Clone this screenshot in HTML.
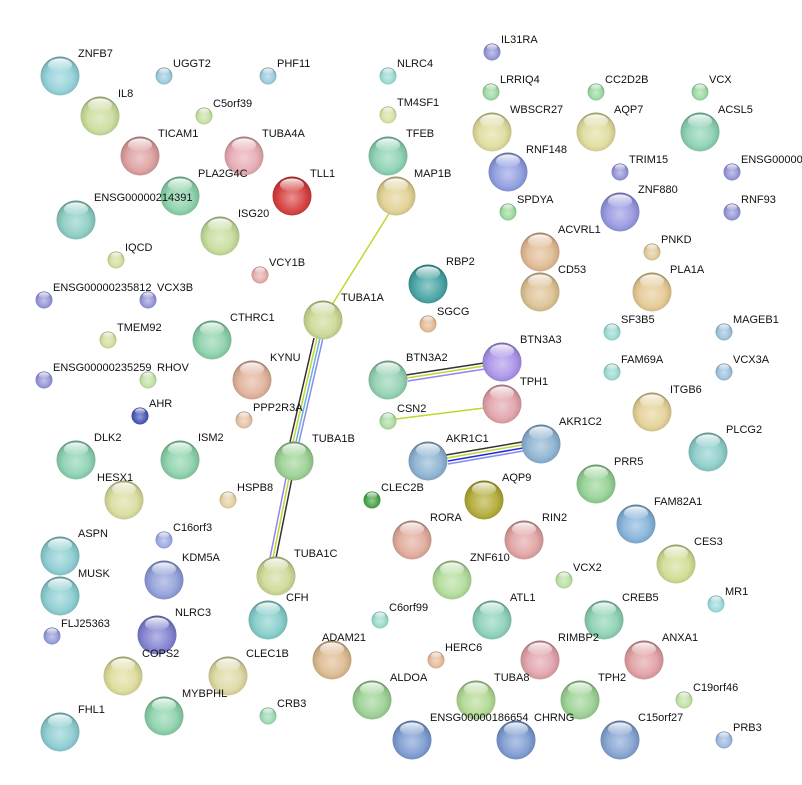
<!DOCTYPE html>
<html><head><meta charset="utf-8"><style>
html,body{margin:0;padding:0;background:#fff;}
svg{display:block;}
text{font-family:"Liberation Sans",Arial,sans-serif;font-size:11px;fill:#111;}
</style></head><body>
<svg width="802" height="785" viewBox="0 0 802 785" xmlns="http://www.w3.org/2000/svg">
<defs>
<radialGradient id="sh" cx="50%" cy="55%" r="55%">
<stop offset="0%" stop-color="#fff" stop-opacity="0.45"/>
<stop offset="60%" stop-color="#fff" stop-opacity="0.1"/>
<stop offset="88%" stop-color="#000" stop-opacity="0.1"/>
<stop offset="100%" stop-color="#000" stop-opacity="0.35"/>
</radialGradient>
<linearGradient id="gl" x1="0" y1="0" x2="0" y2="1">
<stop offset="0%" stop-color="#fff" stop-opacity="0.9"/>
<stop offset="100%" stop-color="#fff" stop-opacity="0.05"/>
</linearGradient>
<g id="L"><circle r="19.5" fill="url(#sh)"/><ellipse cx="0" cy="-11" rx="12" ry="6.5" fill="url(#gl)"/></g>
<g id="S"><circle r="8.5" fill="url(#sh)"/><ellipse cx="0" cy="-4.8" rx="5.2" ry="3" fill="url(#gl)"/></g>
</defs>

<!-- edges -->
<line x1="330" y1="308" x2="390" y2="212" stroke="#c2d62e" stroke-width="1.5"/>
<g stroke-width="1.5">
<line x1="314" y1="338" x2="290" y2="442" stroke="#333"/>
<line x1="317" y1="338" x2="293" y2="442" stroke="#c2d62e"/>
<line x1="320" y1="338" x2="296" y2="442" stroke="#5fb6e0"/>
<line x1="323" y1="338" x2="299" y2="442" stroke="#8a8aef"/>
<line x1="292" y1="478" x2="276" y2="558" stroke="#333"/>
<line x1="289" y1="478" x2="273" y2="558" stroke="#c2d62e"/>
<line x1="286" y1="478" x2="270" y2="558" stroke="#8a8aef"/>
<line x1="406" y1="375" x2="484" y2="363" stroke="#333"/>
<line x1="407" y1="378" x2="484" y2="366" stroke="#c2d62e"/>
<line x1="408" y1="381" x2="485" y2="369" stroke="#8a8aef"/>
<line x1="396" y1="419" x2="484" y2="408" stroke="#c2d62e"/>
<line x1="446" y1="455" x2="522" y2="442" stroke="#333"/>
<line x1="447" y1="458" x2="522" y2="445" stroke="#c2d62e"/>
<line x1="448" y1="461" x2="523" y2="448" stroke="#2030e0"/>
<line x1="448" y1="464" x2="523" y2="451" stroke="#8a8aef"/>
</g>

<!-- nodes: large -->
<g>
<circle cx="60" cy="76" r="19.5" fill="#8fd0d8"/><use href="#L" x="60" y="76"/><text x="78" y="57">ZNFB7</text>
<circle cx="100" cy="116" r="19.5" fill="#c8dc98"/><use href="#L" x="100" y="116"/><text x="118" y="97">IL8</text>
<circle cx="492" cy="132" r="19.5" fill="#dedc9a"/><use href="#L" x="492" y="132"/><text x="510" y="113">WBSCR27</text>
<circle cx="596" cy="132" r="19.5" fill="#dedc9a"/><use href="#L" x="596" y="132"/><text x="614" y="113">AQP7</text>
<circle cx="700" cy="132" r="19.5" fill="#88d0b0"/><use href="#L" x="700" y="132"/><text x="718" y="113">ACSL5</text>
<circle cx="140" cy="156" r="19.5" fill="#dc9c9c"/><use href="#L" x="140" y="156"/><text x="158" y="137">TICAM1</text>
<circle cx="244" cy="156" r="19.5" fill="#e6a8b0"/><use href="#L" x="244" y="156"/><text x="262" y="137">TUBA4A</text>
<circle cx="388" cy="156" r="19.5" fill="#88d0b0"/><use href="#L" x="388" y="156"/><text x="406" y="137">TFEB</text>
<circle cx="508" cy="172" r="19.5" fill="#8c9ae0"/><use href="#L" x="508" y="172"/><text x="526" y="153">RNF148</text>
<circle cx="180" cy="196" r="19.5" fill="#88d0a8"/><use href="#L" x="180" y="196"/><text x="198" y="177">PLA2G4C</text>
<circle cx="292" cy="196" r="19.5" fill="#d43838"/><use href="#L" x="292" y="196"/><text x="310" y="177">TLL1</text>
<circle cx="396" cy="196" r="19.5" fill="#e0d090"/><use href="#L" x="396" y="196"/><text x="414" y="177">MAP1B</text>
<circle cx="76" cy="220" r="19.5" fill="#88ccc0"/><use href="#L" x="76" y="220"/><text x="94" y="201">ENSG00000214391</text>
<circle cx="620" cy="212" r="19.5" fill="#9494e0"/><use href="#L" x="620" y="212"/><text x="638" y="193">ZNF880</text>
<circle cx="220" cy="236" r="19.5" fill="#c4dc98"/><use href="#L" x="220" y="236"/><text x="238" y="217">ISG20</text>
<circle cx="540" cy="252" r="19.5" fill="#e0b890"/><use href="#L" x="540" y="252"/><text x="558" y="233">ACVRL1</text>
<circle cx="428" cy="284" r="19.5" fill="#40a0a0"/><use href="#L" x="428" y="284"/><text x="446" y="265">RBP2</text>
<circle cx="540" cy="292" r="19.5" fill="#dcc090"/><use href="#L" x="540" y="292"/><text x="558" y="273">CD53</text>
<circle cx="652" cy="292" r="19.5" fill="#e4c890"/><use href="#L" x="652" y="292"/><text x="670" y="273">PLA1A</text>
<circle cx="323" cy="320" r="19.5" fill="#c8d890"/><use href="#L" x="323" y="320"/><text x="341" y="301">TUBA1A</text>
<circle cx="212" cy="340" r="19.5" fill="#88d0a8"/><use href="#L" x="212" y="340"/><text x="230" y="321">CTHRC1</text>
<circle cx="502" cy="362" r="19.5" fill="#a890e8"/><use href="#L" x="502" y="362"/><text x="520" y="343">BTN3A3</text>
<circle cx="252" cy="380" r="19.5" fill="#e0b098"/><use href="#L" x="252" y="380"/><text x="270" y="361">KYNU</text>
<circle cx="388" cy="380" r="19.5" fill="#90d0b0"/><use href="#L" x="388" y="380"/><text x="406" y="361">BTN3A2</text>
<circle cx="502" cy="404" r="19.5" fill="#e0a0a8"/><use href="#L" x="502" y="404"/><text x="520" y="385">TPH1</text>
<circle cx="652" cy="412" r="19.5" fill="#e4d094"/><use href="#L" x="652" y="412"/><text x="670" y="393">ITGB6</text>
<circle cx="541" cy="444" r="19.5" fill="#88b0d0"/><use href="#L" x="541" y="444"/><text x="559" y="425">AKR1C2</text>
<circle cx="428" cy="461" r="19.5" fill="#88b0d0"/><use href="#L" x="428" y="461"/><text x="446" y="442">AKR1C1</text>
<circle cx="76" cy="460" r="19.5" fill="#88d0b0"/><use href="#L" x="76" y="460"/><text x="94" y="441">DLK2</text>
<circle cx="180" cy="460" r="19.5" fill="#88d0a8"/><use href="#L" x="180" y="460"/><text x="198" y="441">ISM2</text>
<circle cx="294" cy="461" r="19.5" fill="#98d090"/><use href="#L" x="294" y="461"/><text x="312" y="442">TUBA1B</text>
<circle cx="708" cy="452" r="19.5" fill="#88ccc8"/><use href="#L" x="708" y="452"/><text x="726" y="433">PLCG2</text>
<circle cx="124" cy="500" r="19.5" fill="#d8dc9c"/><use href="#L" x="124" y="500"/><text x="97" y="481">HESX1</text>
<circle cx="484" cy="500" r="19.5" fill="#b0a830"/><use href="#L" x="484" y="500"/><text x="502" y="481">AQP9</text>
<circle cx="596" cy="484" r="19.5" fill="#90d090"/><use href="#L" x="596" y="484"/><text x="614" y="465">PRR5</text>
<circle cx="636" cy="524" r="19.5" fill="#80b0d8"/><use href="#L" x="636" y="524"/><text x="654" y="505">FAM82A1</text>
<circle cx="60" cy="556" r="19.5" fill="#88ccd0"/><use href="#L" x="60" y="556"/><text x="78" y="537">ASPN</text>
<circle cx="412" cy="540" r="19.5" fill="#e0a898"/><use href="#L" x="412" y="540"/><text x="430" y="521">RORA</text>
<circle cx="524" cy="540" r="19.5" fill="#e0a0a0"/><use href="#L" x="524" y="540"/><text x="542" y="521">RIN2</text>
<circle cx="164" cy="580" r="19.5" fill="#8c9cd8"/><use href="#L" x="164" y="580"/><text x="182" y="561">KDM5A</text>
<circle cx="452" cy="580" r="19.5" fill="#b0dc98"/><use href="#L" x="452" y="580"/><text x="470" y="561">ZNF610</text>
<circle cx="676" cy="564" r="19.5" fill="#d0dc90"/><use href="#L" x="676" y="564"/><text x="694" y="545">CES3</text>
<circle cx="60" cy="596" r="19.5" fill="#88ccd0"/><use href="#L" x="60" y="596"/><text x="78" y="577">MUSK</text>
<circle cx="276" cy="576" r="19.5" fill="#ccd894"/><use href="#L" x="276" y="576"/><text x="294" y="557">TUBA1C</text>
<circle cx="268" cy="620" r="19.5" fill="#80ccc8"/><use href="#L" x="268" y="620"/><text x="286" y="601">CFH</text>
<circle cx="492" cy="620" r="19.5" fill="#88d0b8"/><use href="#L" x="492" y="620"/><text x="510" y="601">ATL1</text>
<circle cx="604" cy="620" r="19.5" fill="#88d0b0"/><use href="#L" x="604" y="620"/><text x="622" y="601">CREB5</text>
<circle cx="157" cy="635" r="19.5" fill="#7c7cd0"/><use href="#L" x="157" y="635"/><text x="175" y="616">NLRC3</text>
<circle cx="332" cy="660" r="19.5" fill="#dcb88c"/><use href="#L" x="332" y="660"/><text x="322" y="641">ADAM21</text>
<circle cx="540" cy="660" r="19.5" fill="#e0a0a8"/><use href="#L" x="540" y="660"/><text x="558" y="641">RIMBP2</text>
<circle cx="644" cy="660" r="19.5" fill="#e09ca0"/><use href="#L" x="644" y="660"/><text x="662" y="641">ANXA1</text>
<circle cx="123" cy="676" r="19.5" fill="#dcdc98"/><use href="#L" x="123" y="676"/><text x="142" y="657">COPS2</text>
<circle cx="228" cy="676" r="19.5" fill="#dcd8a0"/><use href="#L" x="228" y="676"/><text x="246" y="657">CLEC1B</text>
<circle cx="164" cy="716" r="19.5" fill="#88d0a8"/><use href="#L" x="164" y="716"/><text x="182" y="697">MYBPHL</text>
<circle cx="372" cy="700" r="19.5" fill="#98d090"/><use href="#L" x="372" y="700"/><text x="390" y="681">ALDOA</text>
<circle cx="476" cy="700" r="19.5" fill="#b0d890"/><use href="#L" x="476" y="700"/><text x="494" y="681">TUBA8</text>
<circle cx="580" cy="700" r="19.5" fill="#98d090"/><use href="#L" x="580" y="700"/><text x="598" y="681">TPH2</text>
<circle cx="60" cy="732" r="19.5" fill="#88ccd0"/><use href="#L" x="60" y="732"/><text x="78" y="713">FHL1</text>
<circle cx="412" cy="740" r="19.5" fill="#7898d0"/><use href="#L" x="412" y="740"/><text x="430" y="721">ENSG00000186654</text>
<circle cx="516" cy="740" r="19.5" fill="#7898d0"/><use href="#L" x="516" y="740"/><text x="534" y="721">CHRNG</text>
<circle cx="620" cy="740" r="19.5" fill="#80a0d0"/><use href="#L" x="620" y="740"/><text x="638" y="721">C15orf27</text>
</g>

<!-- nodes: small -->
<g>
<circle cx="164" cy="76" r="8.5" fill="#98c8dc"/><use href="#S" x="164" y="76"/><text x="173" y="67">UGGT2</text>
<circle cx="268" cy="76" r="8.5" fill="#98c8dc"/><use href="#S" x="268" y="76"/><text x="277" y="67">PHF11</text>
<circle cx="388" cy="76" r="8.5" fill="#98d8d0"/><use href="#S" x="388" y="76"/><text x="397" y="67">NLRC4</text>
<circle cx="492" cy="52" r="8.5" fill="#9090d8"/><use href="#S" x="492" y="52"/><text x="501" y="43">IL31RA</text>
<circle cx="204" cy="116" r="8.5" fill="#c4e0a0"/><use href="#S" x="204" y="116"/><text x="213" y="107">C5orf39</text>
<circle cx="388" cy="115" r="8.5" fill="#d4e0a0"/><use href="#S" x="388" y="115"/><text x="397" y="106">TM4SF1</text>
<circle cx="491" cy="92" r="8.5" fill="#98d8a0"/><use href="#S" x="491" y="92"/><text x="500" y="83">LRRIQ4</text>
<circle cx="596" cy="92" r="8.5" fill="#98d8a0"/><use href="#S" x="596" y="92"/><text x="605" y="83">CC2D2B</text>
<circle cx="700" cy="92" r="8.5" fill="#98d8a0"/><use href="#S" x="700" y="92"/><text x="709" y="83">VCX</text>
<circle cx="620" cy="172" r="8.5" fill="#9090d8"/><use href="#S" x="620" y="172"/><text x="629" y="163">TRIM15</text>
<circle cx="732" cy="172" r="8.5" fill="#9090d8"/><use href="#S" x="732" y="172"/><text x="741" y="163">ENSG00000</text>
<circle cx="508" cy="212" r="8.5" fill="#98d898"/><use href="#S" x="508" y="212"/><text x="517" y="203">SPDYA</text>
<circle cx="732" cy="212" r="8.5" fill="#9090d8"/><use href="#S" x="732" y="212"/><text x="741" y="203">RNF93</text>
<circle cx="116" cy="260" r="8.5" fill="#d4dc9c"/><use href="#S" x="116" y="260"/><text x="125" y="251">IQCD</text>
<circle cx="260" cy="275" r="8.5" fill="#e4a8a8"/><use href="#S" x="260" y="275"/><text x="269" y="266">VCY1B</text>
<circle cx="652" cy="252" r="8.5" fill="#e0c898"/><use href="#S" x="652" y="252"/><text x="661" y="243">PNKD</text>
<circle cx="44" cy="300" r="8.5" fill="#9090d8"/><use href="#S" x="44" y="300"/><text x="53" y="291">ENSG00000235812</text>
<circle cx="148" cy="300" r="8.5" fill="#9090d8"/><use href="#S" x="148" y="300"/><text x="157" y="291">VCX3B</text>
<circle cx="428" cy="324" r="8.5" fill="#e4b890"/><use href="#S" x="428" y="324"/><text x="437" y="315">SGCG</text>
<circle cx="612" cy="332" r="8.5" fill="#98d8d0"/><use href="#S" x="612" y="332"/><text x="621" y="323">SF3B5</text>
<circle cx="724" cy="332" r="8.5" fill="#98c0dc"/><use href="#S" x="724" y="332"/><text x="733" y="323">MAGEB1</text>
<circle cx="108" cy="340" r="8.5" fill="#d4dc9c"/><use href="#S" x="108" y="340"/><text x="117" y="331">TMEM92</text>
<circle cx="44" cy="380" r="8.5" fill="#9090d8"/><use href="#S" x="44" y="380"/><text x="53" y="371">ENSG00000235259</text>
<circle cx="148" cy="380" r="8.5" fill="#c0e0a0"/><use href="#S" x="148" y="380"/><text x="157" y="371">RHOV</text>
<circle cx="612" cy="372" r="8.5" fill="#98d8d0"/><use href="#S" x="612" y="372"/><text x="621" y="363">FAM69A</text>
<circle cx="724" cy="372" r="8.5" fill="#98c0dc"/><use href="#S" x="724" y="372"/><text x="733" y="363">VCX3A</text>
<circle cx="140" cy="416" r="8.5" fill="#4050b0"/><use href="#S" x="140" y="416"/><text x="149" y="407">AHR</text>
<circle cx="244" cy="420" r="8.5" fill="#e4c0a0"/><use href="#S" x="244" y="420"/><text x="253" y="411">PPP2R3A</text>
<circle cx="388" cy="421" r="8.5" fill="#a8dca0"/><use href="#S" x="388" y="421"/><text x="397" y="412">CSN2</text>
<circle cx="228" cy="500" r="8.5" fill="#e4d0a0"/><use href="#S" x="228" y="500"/><text x="237" y="491">HSPB8</text>
<circle cx="372" cy="500" r="8.5" fill="#40a040"/><use href="#S" x="372" y="500"/><text x="381" y="491">CLEC2B</text>
<circle cx="164" cy="540" r="8.5" fill="#98a8e0"/><use href="#S" x="164" y="540"/><text x="173" y="531">C16orf3</text>
<circle cx="564" cy="580" r="8.5" fill="#b8e0a0"/><use href="#S" x="564" y="580"/><text x="573" y="571">VCX2</text>
<circle cx="716" cy="604" r="8.5" fill="#98d8d8"/><use href="#S" x="716" y="604"/><text x="725" y="595">MR1</text>
<circle cx="52" cy="636" r="8.5" fill="#9098d8"/><use href="#S" x="52" y="636"/><text x="61" y="627">FLJ25363</text>
<circle cx="380" cy="620" r="8.5" fill="#98d8c8"/><use href="#S" x="380" y="620"/><text x="389" y="611">C6orf99</text>
<circle cx="436" cy="660" r="8.5" fill="#e4b898"/><use href="#S" x="436" y="660"/><text x="445" y="651">HERC6</text>
<circle cx="268" cy="716" r="8.5" fill="#98d8b0"/><use href="#S" x="268" y="716"/><text x="277" y="707">CRB3</text>
<circle cx="684" cy="700" r="8.5" fill="#c0e0a0"/><use href="#S" x="684" y="700"/><text x="693" y="691">C19orf46</text>
<circle cx="724" cy="740" r="8.5" fill="#98b8e0"/><use href="#S" x="724" y="740"/><text x="733" y="731">PRB3</text>
</g>
</svg>
</body></html>
